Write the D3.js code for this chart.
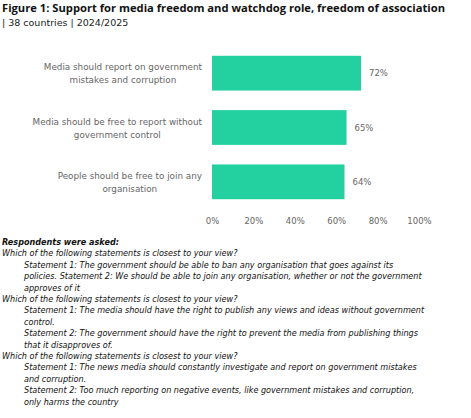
<!DOCTYPE html>
<html><head><meta charset="utf-8">
<script src="https://cdn.jsdelivr.net/npm/d3@7"></script>
<style>body{margin:0;background:#fff;font-family:"DejaVu Sans",sans-serif;}</style>
</head><body>
<svg id="chart" width="471" height="418"></svg>
<script>
const categories = [
  ['Media should report on government', 'mistakes and corruption'],
  ['Media should be free to report without', 'government control'],
  ['People should be free to join any', 'organisation']
];
const values = [72, 65, 64];
const ticks = [0, 20, 40, 60, 80, 100];
const notes = [
  ['Respondents were asked:', 0, true],
  ['Which of the following statements is closest to your view?', 0],
  ['Statement 1: The government should be able to ban any organisation that goes against its', 1],
  ['policies. Statement 2: We should be able to join any organisation, whether or not the government', 1],
  ['approves of it', 1],
  ['Which of the following statements is closest to your view?', 0],
  ['Statement 1: The media should have the right to publish any views and ideas without government', 1],
  ['control.', 1],
  ['Statement 2: The government should have the right to prevent the media from publishing things', 1],
  ['that it disapproves of.', 1],
  ['Which of the following statements is closest to your view?', 0],
  ['Statement 1: The news media should constantly investigate and report on government mistakes', 1],
  ['and corruption.', 1],
  ['Statement 2: Too much reporting on negative events, like government mistakes and corruption,', 1],
  ['only harms the country', 1]
];

const svg = d3.select('#chart');
svg.append('text').attr('x', 2).attr('y', 12)
  .attr('font-size', 11.2).attr('font-weight', 'bold').attr('fill', '#111')
  .attr('font-family', '"Open Sans",sans-serif')
  .text('Figure 1: Support for media freedom and watchdog role, freedom of association');
svg.append('text').attr('x', 2).attr('y', 26)
  .attr('font-size', 9.5).attr('fill', '#222')
  .text('| 38 countries | 2024/2025');

const x = d3.scaleLinear().domain([0, 100]).range([212, 419]);
const y = d3.scaleBand().domain(d3.range(values.length)).range([46, 209]).paddingInner(0.36).paddingOuter(0.18);

svg.append('g').selectAll('rect').data(values).join('rect')
  .attr('x', x(0)).attr('y', (d, i) => y(i))
  .attr('width', d => x(d) - x(0)).attr('height', y.bandwidth())
  .attr('fill', '#22D0A0');

svg.append('g').selectAll('text').data(values).join('text')
  .attr('x', d => x(d) + 8).attr('y', (d, i) => y(i) + y.bandwidth() / 2 + 3)
  .attr('font-size', 8.5).attr('fill', '#666')
  .text(d => d + '%');

const labels = svg.append('g').selectAll('text').data(categories).join('text')
  .attr('text-anchor', 'end').attr('font-size', 8.8).attr('fill', '#666');
labels.selectAll('tspan').data((d, i) => d.map(t => [t, i])).join('tspan')
  .attr('x', 202)
  .attr('y', (d, j) => y(d[1]) + y.bandwidth() / 2 - 3 + j * 13)
  .text(d => d[0]);
// centre second lines like the reference
labels.each(function() {
  const ts = d3.select(this).selectAll('tspan').nodes();
  const w0 = ts[0].getComputedTextLength();
  d3.select(ts[1]).attr('text-anchor', 'middle').attr('x', 202 - w0 / 2);
});

const axis = svg.append('g').attr('transform', 'translate(0,215)')
  .call(d3.axisBottom(x).tickValues(ticks).tickFormat(d => d + '%').tickSize(0));
axis.select('.domain').remove();
axis.selectAll('text').attr('font-size', 8.5).attr('fill', '#666').attr('font-family', '"DejaVu Sans",sans-serif');

svg.append('g').selectAll('text').data(notes).join('text')
  .attr('x', d => d[1] ? 24 : 2).attr('y', (d, i) => 245 + i * 11.4)
  .attr('font-size', 8.1).attr('font-style', 'italic')
  .attr('font-weight', d => d[2] ? 'bold' : 'normal')
  .attr('fill', '#111')
  .text(d => d[0]);
</script>
</body></html>
